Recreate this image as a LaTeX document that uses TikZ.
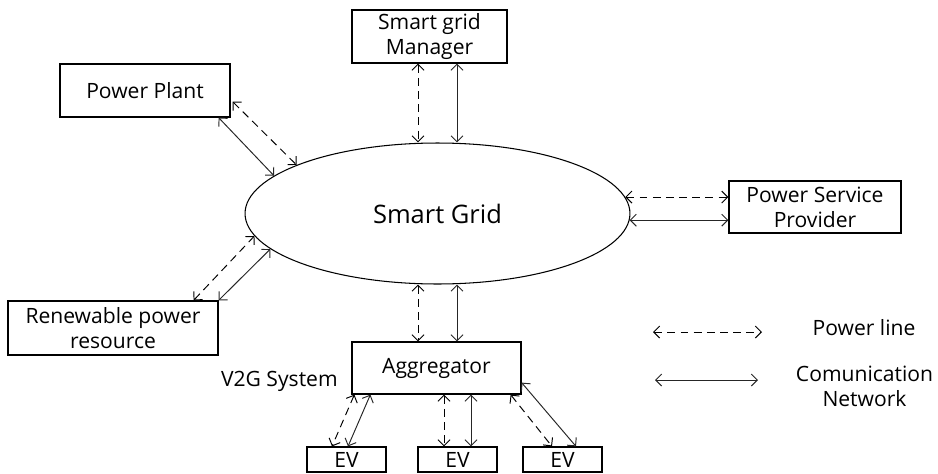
\documentclass[tikz,border=0pt]{standalone}
\usepackage{fontspec}
\setmainfont{Open Sans}
\usetikzlibrary{arrows.meta, positioning, calc, shapes.geometric}

\tikzset{
  blk/.style={draw, line width=0.7pt, inner sep=0pt, align=center},
  pline/.style={{Straight Barb[length=1.2mm, width=2.4mm]}-{Straight Barb[length=1.2mm, width=2.4mm]},
    line width=0.55pt, dash pattern=on 4.5pt off 3pt},
  cline/.style={{Straight Barb[length=1.2mm, width=2.4mm]}-{Straight Barb[length=1.2mm, width=2.4mm]},
    line width=0.55pt, black!85}
}

\begin{document}
\begin{tikzpicture}[x=0.02cm, y=-0.02cm, font=\fontsize{12}{14.2}\selectfont]
  \useasboundingbox (0,0) rectangle (938,474);
  % centre
  \node[draw, ellipse, line width=0.6pt, inner sep=0pt, minimum width=7.7cm, minimum height=2.82cm,
    font=\fontsize{14.5}{17}\selectfont] (grid) at (437.5,213.5) {Smart Grid};
  % boxes
  \node[blk, minimum width=3.4cm, minimum height=1.06cm] (pp) at (145,90.5) {Power Plant};
  \node[blk, minimum width=3.1cm, minimum height=1.06cm] (mgr) at (429.5,36.5) {Smart grid\\Manager};
  \node[blk, minimum width=3.44cm, minimum height=1.04cm] (psp) at (815,207) {Power Service\\Provider};
  \node[blk, minimum width=4.2cm, minimum height=1.08cm] (rpr) at (113,328) {Renewable power\\resource};
  \node[blk, minimum width=3.38cm, minimum height=1.04cm] (agg) at (436.5,368) {Aggregator};
  \node[blk, minimum width=1.58cm, minimum height=0.5cm] (ev1) at (346.5,459.5) {EV};
  \node[blk, minimum width=1.58cm, minimum height=0.5cm] (ev2) at (457.5,459.5) {EV};
  \node[blk, minimum width=1.58cm, minimum height=0.5cm] (ev3) at (562.5,459.5) {EV};
  \node[anchor=east, inner sep=0pt] (v2g) at (338,381) {V2G System};

  % power plant and renewable
  \draw[pline] ($(pp.south east)+(2,-16)$) -- (grid.161);
  \draw[cline] ($(pp.south east)+(-12,0)$) -- (grid.167);
  \draw[pline] ($(rpr.north east)+(-25,0)$) -- (grid.187);
  \draw[cline] (rpr.north east) -- (grid.192);

  % manager and aggregator
  \coordinate (gn1) at ($(grid.north)+(-19.5,0)$);
  \coordinate (gn2) at ($(grid.north)+(19.5,0)$);
  \coordinate (gs1) at ($(grid.south)+(-19.5,0)$);
  \coordinate (gs2) at ($(grid.south)+(19.5,0)$);
  \draw[pline] (gn1 |- mgr.south) -- (gn1);
  \draw[cline] (gn2 |- mgr.south) -- (gn2);
  \draw[pline] (gs1) -- (gs1 |- agg.north);
  \draw[cline] (gs2) -- (gs2 |- agg.north);

  % service provider
  \draw[pline] (grid.5.7) -- (grid.5.7 -| psp.west);
  \draw[cline] (grid.-2.5) -- (grid.-2.5 -| psp.west);

  % EVs
  \draw[pline] ($(agg.south west)+(3,0)$) -- ($(ev1.north)+(-14.5,0)$);
  \draw[cline] ($(agg.south west)+(19,0)$) -- ($(ev1.north)+(1.5,0)$);
  \coordinate (e2a) at ($(ev2.north)+(-13.5,0)$);
  \coordinate (e2b) at ($(ev2.north)+(13.5,0)$);
  \draw[pline] (e2a |- agg.south) -- (e2a);
  \draw[cline] (e2b |- agg.south) -- (e2b);
  \draw[pline] ($(agg.south east)+(-11,0)$) -- ($(ev3.north)+(-10.5,0)$);
  \draw[cline] ($(agg.south east)+(0,-12)$) -- ($(ev3.north)+(13.5,0)$);

  % legend
  \coordinate (l1a) at (653,332);
  \coordinate (l1b) at (762,332);
  \coordinate (l2a) at (655,380);
  \coordinate (l2b) at (758,380);
  \draw[pline] (l1a) -- (l1b);
  \draw[cline] (l2a) -- (l2b);
  \node[inner sep=0pt] (plt) at (864,328) {Power line};
  \node[inner sep=0pt, align=center] (cnt) at (864.5,386.5) {Comunication\\Network};
\end{tikzpicture}
\end{document}
